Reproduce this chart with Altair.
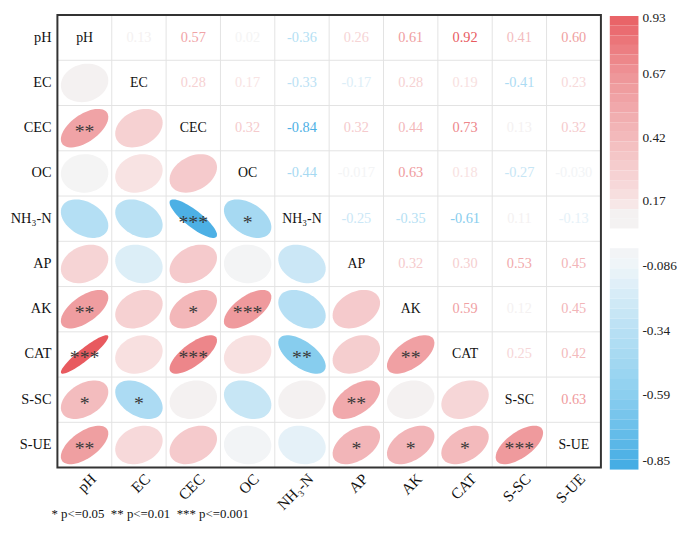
import altair as alt
import numpy as np
import pandas as pd

# ---------------- data ----------------
variables = ["pH", "EC", "CEC", "OC", "NH₃-N", "AP", "AK", "CAT", "S-SC", "S-UE"]

# upper triangle (row i, columns i+1 .. end), as printed
upper_text = [
    ["0.13", "0.57", "0.02", "-0.36", "0.26", "0.61", "0.92", "0.41", "0.60"],
    ["0.28", "0.17", "-0.33", "-0.17", "0.28", "0.19", "-0.41", "0.23"],
    ["0.32", "-0.84", "0.32", "0.44", "0.73", "0.13", "0.32"],
    ["-0.44", "-0.017", "0.63", "0.18", "-0.27", "-0.030"],
    ["-0.25", "-0.35", "-0.61", "0.11", "-0.13"],
    ["0.32", "0.30", "0.53", "0.45"],
    ["0.59", "0.12", "0.45"],
    ["0.25", "0.42"],
    ["0.63"],
]

# significance stars, lower triangle (row i, columns 0 .. i-1)
stars = [
    [],
    [""],
    ["**", ""],
    ["", "", ""],
    ["", "", "***", "*"],
    ["", "", "", "", ""],
    ["**", "", "*", "***", "", ""],
    ["***", "", "***", "", "**", "", "**"],
    ["*", "*", "", "", "", "**", "", ""],
    ["**", "", "", "", "", "*", "*", "*", "***"],
]

cbar_ticks = [0.93, 0.67, 0.42, 0.17, -0.086, -0.34, -0.59, -0.85]
cbar_labels = ["0.93", "0.67", "0.42", "0.17", "-0.086", "-0.34", "-0.59", "-0.85"]

color_stops = [-0.85, -0.59, -0.34, -0.086, 0.0, 0.13, 0.17, 0.42, 0.67, 0.93]
color_hex = ["#4AAFE5", "#8CCFEF", "#B8E0F4", "#EEF5F9", "#F4F4F4",
             "#F4F1F1", "#F8E3E3", "#F3BABC", "#EE9497", "#E8585D"]

footnote = "* p<=0.05\u00a0\u00a0** p<=0.01\u00a0\u00a0*** p<=0.001"

# ---------------- layout ----------------
W, H = 677, 517
X0, Y0, CW, CH = 50.0, 4.0, 55.0, 45.8
N = len(variables)
FONT = "Liberation Serif"
ELL_W, ELL_H = 48.0, 39.0


def ux(px):
    return (px - X0) / CW


def vy(px):
    return (px - Y0) / CH


CBA, CBS = -3.0, 257.3


def cbval(px):
    return 0.93 - (px - CBA) / CBS


xs = alt.Scale(domain=[ux(0), ux(W)], nice=False, zero=False)
ys = alt.Scale(domain=[vy(0), vy(H)], reverse=True, nice=False, zero=False)
cbs = alt.Scale(domain=[cbval(H), cbval(0)], nice=False, zero=False)
cs = alt.Scale(domain=color_stops, range=color_hex, interpolate="rgb")


def X(f="u"):
    return alt.X(f"{f}:Q", scale=xs, axis=None)


def Y(f="v"):
    return alt.Y(f"{f}:Q", scale=ys, axis=None)


def C(f="r"):
    return alt.Color(f"{f}:Q", scale=cs, legend=None)


def ellipse_path(r, ratio, n=60):
    d = np.arccos(np.clip(r, -1.0, 1.0))
    t = np.linspace(0, 2 * np.pi, n, endpoint=False)
    xx = np.cos(t + d / 2)
    yy = -ratio * np.cos(t - d / 2)
    pts = [f"{a:.4f},{b:.4f}" for a, b in zip(xx, yy)]
    return "M" + " L".join(pts) + " Z"


upper_rows, lower_rows = [], []
for i in range(N):
    for j in range(i + 1, N):
        txt = upper_text[i][j - i - 1]
        r = float(txt)
        upper_rows.append({"u": j + 0.5, "v": i + 0.5, "r": r, "t": txt})
        lower_rows.append({"u": i + 0.5, "v": j + 0.5, "r": r,
                           "s": stars[j][i],
                           "path": ellipse_path(r, ELL_H / ELL_W)})
upper_df = pd.DataFrame(upper_rows)
lower_df = pd.DataFrame(lower_rows)
star_df = lower_df[lower_df["s"] != ""]

diag_df = pd.DataFrame({"u": [k + 0.5 for k in range(N)],
                        "v": [k + 0.5 for k in range(N)],
                        "t": variables})
left_df = pd.DataFrame({"u": [ux(44)] * N,
                        "v": [k + 0.5 for k in range(N)],
                        "t": variables})
bottom_df = pd.DataFrame({"u": [k + 0.5 + 9 / CW for k in range(N)],
                          "v": [N + 9 / CH] * N,
                          "t": variables})

vgrid = pd.DataFrame({"u": list(range(1, N)), "v": [0] * (N - 1), "v2": [N] * (N - 1)})
hgrid = pd.DataFrame({"v": list(range(1, N)), "u": [0] * (N - 1), "u2": [N] * (N - 1)})
frame = pd.DataFrame({"u": [0], "u2": [N], "v": [0], "v2": [N]})

# colorbar blocks (two sections)
nb = 22
blocks = []
for top_px, bot_px in [(5, 220), (240, 464)]:
    edges = np.linspace(cbval(top_px), cbval(bot_px), nb + 1)
    for a, b in zip(edges[:-1], edges[1:]):
        blocks.append({"u": ux(609), "u2": ux(638), "y": a, "y2": b, "r": (a + b) / 2})
cb_df = pd.DataFrame(blocks)
cbl_df = pd.DataFrame({"u": [ux(642)] * len(cbar_ticks), "y": cbar_ticks, "t": cbar_labels})
cbl_top = cbl_df.iloc[:1].assign(y=cbval(0))
cbl_rest = cbl_df.iloc[1:]

foot_df = pd.DataFrame({"u": [ux(44)], "v": [vy(509)], "t": [footnote]})

# ---------------- layers ----------------
grid_v = alt.Chart(vgrid).mark_rule(color="#E3E3E3", strokeWidth=1).encode(
    x=X(), y=Y(), y2="v2:Q")
grid_h = alt.Chart(hgrid).mark_rule(color="#E3E3E3", strokeWidth=1).encode(
    y=Y(), x=X(), x2="u2:Q")

ellipses = alt.Chart(lower_df).mark_point(filled=True, opacity=1, strokeWidth=0,
                                          size=ELL_W ** 2).encode(
    x=X(), y=Y(), color=C(),
    shape=alt.Shape("path:N", scale=None, legend=None))

star_txt = alt.Chart(star_df).mark_text(font=FONT, fontSize=20, color="#3A3A3A",
                                        dy=4).encode(
    x=X(), y=Y(), text="s:N")

upper_txt = alt.Chart(upper_df).mark_text(font=FONT, fontSize=14.5).encode(
    x=X(), y=Y(), color=C(), text="t:N")

diag_txt = alt.Chart(diag_df).mark_text(font=FONT, fontSize=14, color="#111111").encode(
    x=X(), y=Y(), text="t:N")

frame_rect = alt.Chart(frame).mark_rect(fillOpacity=0, stroke="#333333",
                                        strokeWidth=2).encode(
    x=X(), x2="u2:Q", y=Y(), y2="v2:Q")

left_txt = alt.Chart(left_df).mark_text(font=FONT, fontSize=14.5, color="#111111",
                                        align="right", baseline="middle").encode(
    x=X(), y=Y(), text="t:N")

bottom_txt = alt.Chart(bottom_df).mark_text(font=FONT, fontSize=15.5, color="#111111",
                                            align="right", baseline="middle",
                                            angle=315).encode(
    x=X(), y=Y(), text="t:N")

cbar = alt.Chart(cb_df).mark_rect().encode(
    x=X(), x2="u2:Q",
    y=alt.Y("y:Q", scale=cbs, axis=None), y2="y2:Q",
    color=C())

cbar_lab_top = alt.Chart(cbl_top).mark_text(font=FONT, fontSize=13.5, color="#222222",
                                            align="left", baseline="top").encode(
    x=X(), y=alt.Y("y:Q", scale=cbs, axis=None), text="t:N")
cbar_lab = alt.Chart(cbl_rest).mark_text(font=FONT, fontSize=13.5, color="#222222",
                                         align="left", baseline="middle").encode(
    x=X(), y=alt.Y("y:Q", scale=cbs, axis=None), text="t:N")

foot_txt = alt.Chart(foot_df).mark_text(font=FONT, fontSize=13, color="#111111",
                                        align="left", baseline="middle").encode(
    x=X(), y=Y(), text="t:N")

chart = alt.layer(
    grid_v, grid_h, ellipses, star_txt, upper_txt, diag_txt, frame_rect,
    left_txt, bottom_txt, cbar, cbar_lab_top, cbar_lab, foot_txt
).resolve_scale(
    x="independent", y="independent", color="independent"
).properties(
    width=W, height=H, padding=0,
    autosize=alt.AutoSizeParams(type="none")
).configure_view(strokeWidth=0)

chart.save("out.html", embed_options={"renderer": "svg", "actions": False})
